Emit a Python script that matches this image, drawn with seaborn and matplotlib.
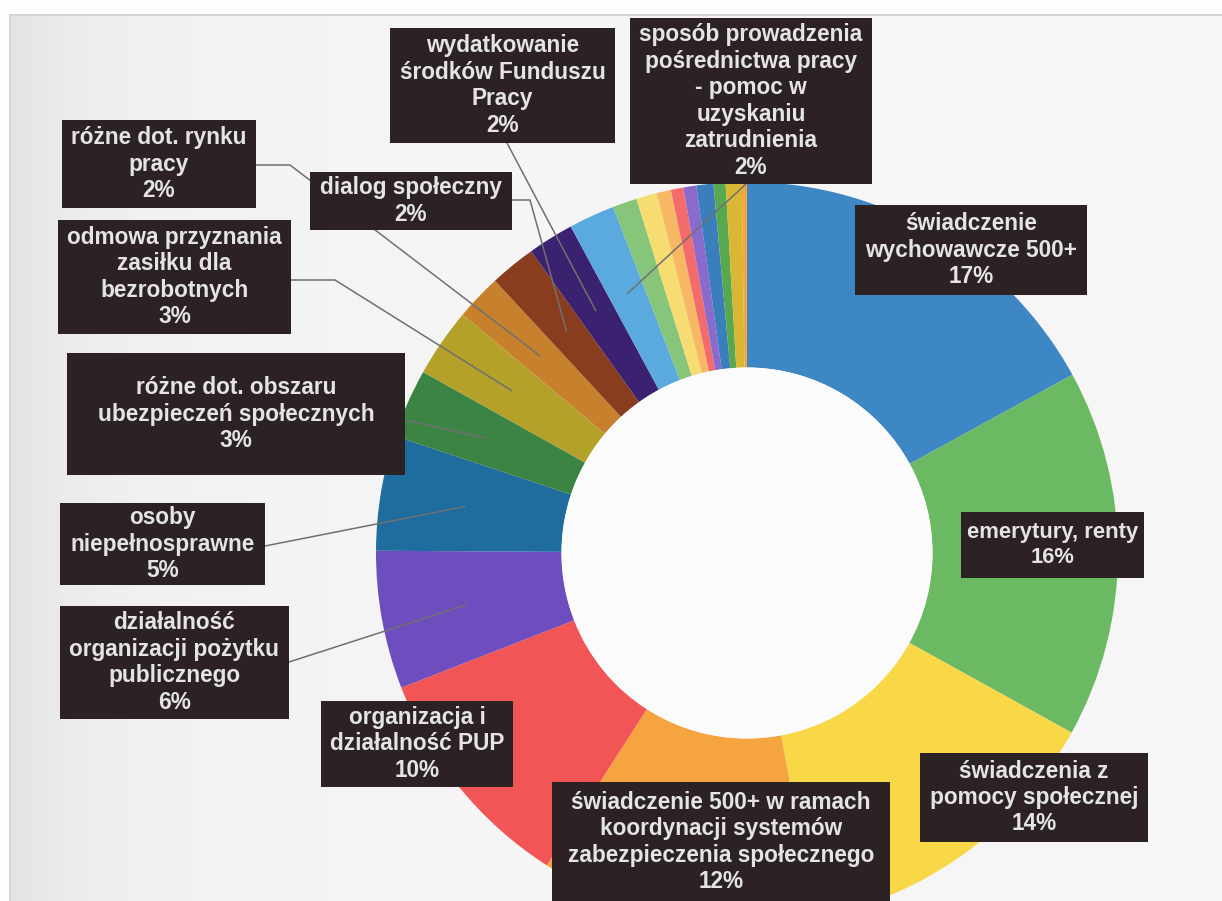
import numpy as np
import matplotlib
matplotlib.use("Agg")
import matplotlib.pyplot as plt
from matplotlib.patches import Rectangle, Circle
import seaborn as sns

# Categories in clockwise order starting at 12 o'clock (None = small unlabelled slice)
categories = [
    "świadczenie\nwychowawcze 500+",
    "emerytury, renty",
    "świadczenia z\npomocy społecznej",
    "świadczenie 500+ w ramach\nkoordynacji systemów\nzabezpieczenia społecznego",
    "organizacja i\ndziałalność PUP",
    "działalność\norganizacji pożytku\npublicznego",
    "osoby\nniepełnosprawne",
    "różne dot. obszaru\nubezpieczeń społecznych",
    "odmowa przyznania\nzasiłku dla\nbezrobotnych",
    "różne dot. rynku\npracy",
    "dialog społeczny",
    "wydatkowanie\nśrodków Funduszu\nPracy",
    "sposób prowadzenia\npośrednictwa pracy\n- pomoc w\nuzyskaniu\nzatrudnienia",
    None, None, None, None, None, None, None, None, None,
]
# Share of cases, %
values = [17, 16, 14, 12, 10, 6, 5, 3, 3, 2, 2, 2, 2,
          1.06, 0.9, 0.62, 0.55, 0.56, 0.74, 0.52, 0.7, 0.22]
colors = [
    "#3d87c5", "#6cb964", "#f8d846", "#f6a440", "#f25555", "#6e4ebf",
    "#1f6c9e", "#3c8443", "#b4a12a", "#c7812c", "#8a3c1f", "#3a2271",
    "#5aa9df", "#86c57a", "#f7dc72", "#f7b866", "#f46b6b", "#8a6acd",
    "#3a7fbc", "#57a84f", "#d9b734", "#f3a43a",
]

# Label boxes (pixel layout: left, top, right, bottom) and leader lines
boxes = {
    0: (855, 205, 1087, 295),
    1: (961, 512, 1144, 578),
    2: (920, 753, 1148, 842),
    3: (552, 782, 890, 902),
    4: (321, 701, 513, 787),
    5: (60, 606, 289, 719),
    6: (60, 503, 265, 585),
    7: (67, 353, 405, 475),
    8: (58, 220, 291, 334),
    9: (62, 120, 256, 208),
    10: (310, 172, 512, 230),
    11: (390, 28, 615, 143),
    12: (630, 18, 872, 184),
}
font_sizes = {1: 15.8}
leaders = {
    5: [(289, 662)],
    6: [(265, 546)],
    7: [(405, 420)],
    8: [(291, 280), (335, 280)],
    9: [(256, 165), (290, 165)],
    10: [(512, 200), (530, 200)],
    11: [(507, 143)],
    12: [(746, 184)],
}

sns.set_theme(style="white")
plt.rcParams["font.family"] = ["Liberation Sans", "DejaVu Sans"]
palette = sns.color_palette(colors)

W, H = 1222, 901
CX, CY, R = 747, 553, 371
HOLE = 0.5
BASE_SIZE = 16.3
LINE_PX = 26.5  # baseline-to-baseline distance of label lines


def P(x, y):
    return ((x - CX) / R, (CY - y) / R)


fig = plt.figure(figsize=(W / 100, H / 100), dpi=100)
fig.patch.set_facecolor("#fdfdfd")
ax = fig.add_axes([0, 0, 1, 1])

# page background with a soft grey edge on the left
xs = np.linspace(0, 1, 400)
lum = 0.975 - 0.06 * np.exp(-xs / 0.06) - 0.015 * np.exp(-(xs / 0.35) ** 2)
img = np.dstack([lum * 0.995, lum * 0.99, lum * 0.99])
bx0, by0 = P(10, 15)
bx1, by1 = P(W, H)
ax.imshow(img, extent=(bx0, bx1, by1, by0), aspect="auto", zorder=0,
          interpolation="bilinear")
ax.plot([bx0, bx1], [by0, by0], color="#d0d0d0", lw=1.2, zorder=0.5)
ax.plot([bx0, bx0], [by0, by1], color="#cfcfcf", lw=1.2, zorder=0.5)

wedges, _ = ax.pie(values, colors=palette, startangle=90, counterclock=False,
                   radius=1, center=(0, 0),
                   wedgeprops=dict(width=1 - HOLE, edgecolor="none", linewidth=0))
ax.add_patch(Circle((0, 0), HOLE, facecolor="#fbfbfb", edgecolor="none", zorder=1.5))

# leader lines from label boxes into their slices
for i, pts in leaders.items():
    w = wedges[i]
    th = np.deg2rad((w.theta1 + w.theta2) / 2)
    end = (0.77 * np.cos(th), 0.77 * np.sin(th))
    path = [P(*p) for p in pts] + [end]
    ax.plot([p[0] for p in path], [p[1] for p in path], color="#707070",
            lw=1.1, zorder=2, solid_capstyle="round")

# dark label boxes
for i, (x0, y0, x1, y1) in boxes.items():
    lx, ly = P(x0, y1)
    ax.add_patch(Rectangle((lx, ly), (x1 - x0) / R, (y1 - y0) / R,
                           facecolor="#2c2224", edgecolor="none", zorder=3))
    tx, ty = P((x0 + x1) / 2, (y0 + y1) / 2)
    fs = font_sizes.get(i, BASE_SIZE)
    ax.text(tx, ty, f"{categories[i]}\n{values[i]:.0f}%", ha="center", va="center",
            color="#e4e4e4", fontsize=fs, fontweight="bold",
            linespacing=1.19 * BASE_SIZE / fs, zorder=4)

ax.set_xlim(-CX / R, (W - CX) / R)
ax.set_ylim((CY - H) / R, CY / R)
ax.set_aspect("auto")
ax.axis("off")

fig.savefig("out.png", dpi=100)
